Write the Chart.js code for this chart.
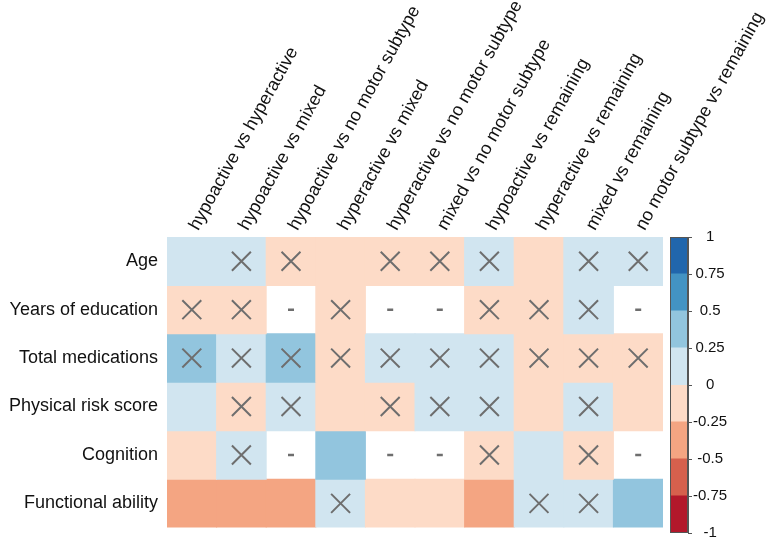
<!DOCTYPE html>
<html><head><meta charset="utf-8">
<script src="https://cdn.jsdelivr.net/npm/chart.js@4/dist/chart.umd.min.js"></script>
<style>
html,body{margin:0;padding:0;background:#fff;}
#wrap{position:relative;width:778px;height:543px;overflow:hidden;}
#heatBox{position:absolute;left:0;top:0;width:778px;height:543px;}
#barBox{position:absolute;left:650px;top:220px;width:128px;height:323px;}
</style></head><body>
<div id="wrap"><div id="heatBox"><canvas id="heat"></canvas></div><div id="barBox"><canvas id="cbar"></canvas></div></div>
<script>
// ---- data ----
const columns = ["hypoactive vs hyperactive", "hypoactive vs mixed", "hypoactive vs no motor subtype",
  "hyperactive vs mixed", "hyperactive vs no motor subtype", "mixed vs no motor subtype",
  "hypoactive vs remaining", "hyperactive vs remaining", "mixed vs remaining", "no motor subtype vs remaining"];
const rows = ["Age", "Years of education", "Total medications", "Physical risk score", "Cognition", "Functional ability"];

// correlation estimates (null = not available, shown as "-")
const age          = [0.12, 0.08, -0.10, -0.15, -0.06, -0.05, 0.07, -0.18, 0.06, 0.10];
const education    = [-0.08, -0.09, null, -0.07, null, null, -0.06, -0.05, 0.04, null];
const medications  = [0.33, 0.12, 0.30, -0.10, 0.08, 0.10, 0.09, -0.06, -0.07, -0.04];
const physicalRisk = [0.15, -0.11, 0.09, -0.20, -0.08, 0.05, 0.08, -0.14, 0.06, -0.12];
const cognition    = [-0.13, 0.10, null, 0.36, null, null, -0.09, 0.17, -0.08, null];
const functional   = [-0.34, -0.38, -0.30, 0.07, -0.18, -0.16, -0.33, 0.11, 0.09, 0.28];

// 1 = not significant (crossed out)
const ageNS          = [0, 1, 1, 0, 1, 1, 1, 0, 1, 1];
const educationNS    = [1, 1, 0, 1, 0, 0, 1, 1, 1, 0];
const medicationsNS  = [1, 1, 1, 1, 1, 1, 1, 1, 1, 1];
const physicalRiskNS = [0, 1, 1, 0, 1, 1, 1, 0, 1, 0];
const cognitionNS    = [0, 1, 0, 0, 0, 0, 1, 0, 1, 0];
const functionalNS   = [0, 0, 0, 1, 0, 0, 0, 1, 1, 0];

const legendBreaks = [-1, -0.75, -0.5, -0.25, 0, 0.25, 0.5, 0.75, 1];
const palette = ['#B2182B', '#D6604D', '#F4A582', '#FDDBC7', '#D1E5F0', '#92C5DE', '#4393C3', '#2166AC'];

// ---- build ----
const values = [age, education, medications, physicalRisk, cognition, functional];
const notSig = [ageNS, educationNS, medicationsNS, physicalRiskNS, cognitionNS, functionalNS];

function colorFor(v) {
  if (v === null) return 'rgba(0,0,0,0)';
  for (let i = 0; i < palette.length; i++) {
    if (v >= legendBreaks[i] && v < legendBreaks[i + 1]) return palette[i];
  }
  return palette[palette.length - 1];
}

Chart.defaults.font.family = "'Liberation Sans', Arial, sans-serif";
Chart.defaults.color = '#111';

const cellSets = values.map((vals, r) => ({
  type: 'bar',
  label: rows[r],
  data: vals.map(v => v === null ? null : [r, r + 1]),
  backgroundColor: vals.map(colorFor),
  borderWidth: 0,
  inflateAmount: 0.5,
  barPercentage: 1,
  categoryPercentage: 1,
  grouped: false,
  order: 2
}));

const crosses = [], dashes = [];
values.forEach((vals, r) => vals.forEach((v, c) => {
  if (v === null) dashes.push({x: columns[c], y: r + 0.5});
  else if (notSig[r][c]) crosses.push({x: columns[c], y: r + 0.5});
}));

const markColor = '#6e6e6e';
new Chart(document.getElementById('heat'), {
  type: 'bar',
  data: {
    labels: columns,
    datasets: [
      ...cellSets,
      {type: 'scatter', label: 'ns', data: crosses, pointStyle: 'crossRot', pointRadius: 13.4, pointHoverRadius: 13.4,
       pointBorderColor: markColor, pointBorderWidth: 2, pointBackgroundColor: markColor, showLine: false, order: 0},
      {type: 'scatter', label: 'na', data: dashes, pointStyle: 'line', pointRadius: 3, pointHoverRadius: 3,
       pointBorderColor: markColor, pointBorderWidth: 2.5, pointBackgroundColor: markColor, showLine: false, order: 0}
    ]
  },
  options: {
    responsive: true, maintainAspectRatio: false, animation: false, events: [],
    layout: {padding: {left: 0, top: 0, right: 115, bottom: 10}},
    plugins: {legend: {display: false}, tooltip: {enabled: false}},
    scales: {
      x: {
        type: 'category', position: 'top', offset: true,
        grid: {display: false, drawTicks: false}, border: {display: false},
        ticks: {autoSkip: false, minRotation: 61, maxRotation: 61, padding: 3, labelOffset: 21,
                font: {size: 18}, color: '#111'},
        afterFit: s => { s.height = 237; s.paddingLeft = 0; s.paddingRight = 0; }
      },
      y: {
        type: 'linear', min: 0, max: 6, reverse: true,
        grid: {display: false, drawTicks: false}, border: {display: false},
        afterBuildTicks: s => { s.ticks = rows.map((_, i) => ({value: i + 0.5})); },
        ticks: {padding: 9, font: {size: 18}, color: '#111', callback: v => rows[Math.floor(v)]},
        afterFit: s => { s.width = 167; s.paddingTop = 0; s.paddingBottom = 0; }
      }
    }
  }
});

// ---- colour bar ----
const frame = {
  id: 'frame',
  afterDatasetsDraw(chart) {
    const a = chart.chartArea, ctx = chart.ctx;
    ctx.save();
    ctx.strokeStyle = '#555';
    ctx.lineWidth = 1;
    ctx.strokeRect(Math.round(a.left) + 0.5, Math.round(a.top) + 0.5,
                   Math.round(a.right - a.left) - 1, Math.round(a.bottom - a.top) - 1);
    ctx.restore();
  }
};
new Chart(document.getElementById('cbar'), {
  type: 'bar',
  data: {
    labels: ['scale'],
    datasets: palette.map((col, i) => ({
      data: [[legendBreaks[i], legendBreaks[i + 1]]],
      backgroundColor: col, borderWidth: 0, inflateAmount: 0.5,
      barPercentage: 1, categoryPercentage: 1, grouped: false
    }))
  },
  options: {
    responsive: true, maintainAspectRatio: false, animation: false, events: [],
    layout: {padding: {left: 20, top: 17, bottom: 10, right: 0}},
    plugins: {legend: {display: false}, tooltip: {enabled: false}},
    scales: {
      x: {display: false},
      y: {
        type: 'linear', position: 'right', min: -1, max: 1,
        grid: {display: true, drawOnChartArea: false, drawTicks: true, tickLength: 4, color: '#555'},
        border: {display: true, color: '#555'},
        afterBuildTicks: s => { s.ticks = legendBreaks.map(v => ({value: v})); },
        ticks: {crossAlign: 'center', padding: 1, font: {size: 15}, color: '#111',
                callback: v => String(Math.round(v * 100) / 100)},
        afterFit: s => { s.width = 90; s.paddingTop = 0; s.paddingBottom = 0; }
      }
    }
  },
  plugins: [frame]
});
</script>
</body></html>
